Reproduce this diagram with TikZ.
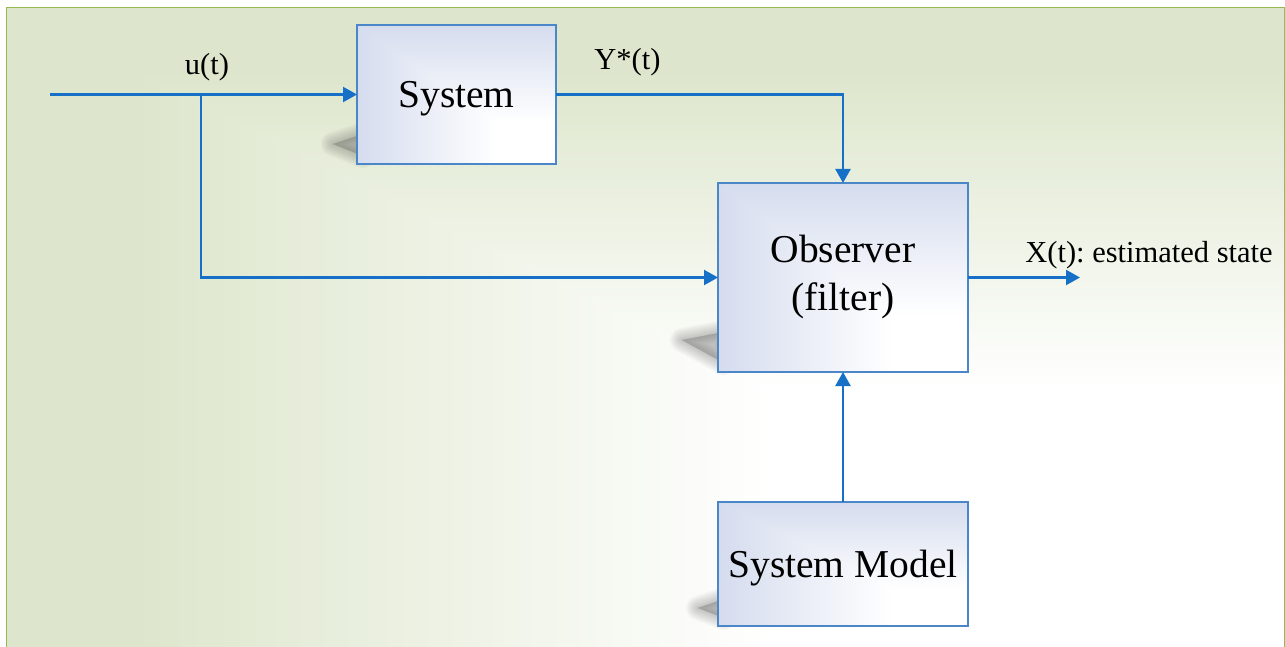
\documentclass[tikz,border=0pt]{standalone}
\usepackage{fontspec}
\setmainfont{Liberation Serif}
\frenchspacing
\usetikzlibrary{arrows.meta}

\definecolor{linkblue}{RGB}{22,112,200}
\definecolor{boxedge}{RGB}{74,134,200}
\definecolor{framegreen}{RGB}{150,185,80}

\pgfdeclarelayer{back}
\pgfsetlayers{back,main}

% Pale green backdrop fading to white toward the lower right corner
\pgfdeclarefunctionalshading{backdrop}{\pgfpointorigin}{\pgfpoint{100bp}{100bp}}{}{
  25 sub 50 div
  exch 75 exch sub 50 div
  2 copy lt {exch} if pop
  0.4 sub 0.5 div
  dup 0 lt {pop 0} if
  dup 1 gt {pop 1} if
  dup 0.133 mul 1 exch sub
  exch dup 0.098 mul 1 exch sub
  exch 0.2 mul 1 exch sub
}

% Block fill: lavender at the upper and left edges, white toward the lower right
\pgfdeclarefunctionalshading{boxfill}{\pgfpointorigin}{\pgfpoint{100bp}{100bp}}{}{
  25 sub 50 div
  exch 75 exch sub 50 div
  2 copy lt {exch} if pop
  0.3 sub 0.7 div
  dup 0 lt {pop 0} if
  dup 1 gt {pop 1} if
  dup 0.165 mul 1 exch sub
  exch dup 0.137 mul 1 exch sub
  exch 0.067 mul 1 exch sub
}

% Soft cast shadow: a polygon stroked many times with shrinking width
\newcommand\softshadow[1]{%
  \foreach \w in {24,21,18,15,12,9,6,3,0.5}{%
    \path[fill=black!70, draw=black!70, line width=\w pt, line join=round,
      fill opacity=0.03, draw opacity=0.04] #1;
  }}

\begin{document}
\begin{tikzpicture}[x=1pt,y=-1pt,
  box/.style={draw=boxedge, line width=1.4pt, shade, shading=boxfill,
    outer sep=0pt, inner sep=0pt, align=center,
    font=\fontsize{39.5}{48}\selectfont},
  flow/.style={draw=linkblue, line width=2.2pt,
    -{Triangle[length=14pt,width=15pt]}},
  lbl/.style={font=\fontsize{30.5}{36}\selectfont, anchor=base, inner sep=0pt}]
\useasboundingbox (0,0) rectangle (1285,647);

% blocks
\node[box, minimum width=199pt, minimum height=139pt, text height=27pt, text depth=0pt]
  (sys) at (456.5,94.5) {System};
\node[box, minimum width=250pt, minimum height=189pt]
  (obs) at (843,277.5) {Observer\\(filter)};
\node[box, minimum width=250pt, minimum height=124pt, text height=27pt, text depth=0pt]
  (mdl) at (843,564) {System Model};

% signal labels
\node[lbl] (ulab) at (207,75) {u(t)};
\node[lbl] (ylab) at (627.5,70) {Y*(t)};
\node[lbl] (xlab) at (1149,262) {X(t): estimated state};

% free ends of the signal lines
\coordinate (src) at (50,94.5);
\coordinate (tap) at (201,94.5);
\coordinate (sink) at (1080,277.5);

% signal flow
\draw[flow] (src) -- (sys.west);
\draw[flow] (tap) |- (obs.west);
\draw[flow] (sys.east) -| (obs.north);
\draw[flow] (obs.east) -- (sink);
\draw[flow] (mdl.north) -- (obs.south);

\begin{pgfonlayer}{back}
  \fill[white] (0,0) rectangle (1285,647);
  \shade[shading=backdrop] (6.5,7.5) rectangle (1284.5,647);
  \draw[framegreen, line width=1.5pt] (6.5,647) -- (6.5,7.5) -- (1284.5,7.5) -- (1284.5,647);
  % shadows behind the blocks
  \softshadow{([shift={(6,-8)}]sys.south west) -- ([shift={(-24,-20)}]sys.south west) -- ([shift={(6,-30)}]sys.south west) -- cycle}
  \softshadow{([shift={(6,-9)}]obs.south west) -- ([shift={(-36,-32)}]obs.south west) -- ([shift={(6,-40)}]obs.south west) -- cycle}
  \softshadow{([shift={(6,-8)}]mdl.south west) -- ([shift={(-20,-18)}]mdl.south west) -- ([shift={(6,-27)}]mdl.south west) -- cycle}
\end{pgfonlayer}
\end{tikzpicture}
\end{document}
